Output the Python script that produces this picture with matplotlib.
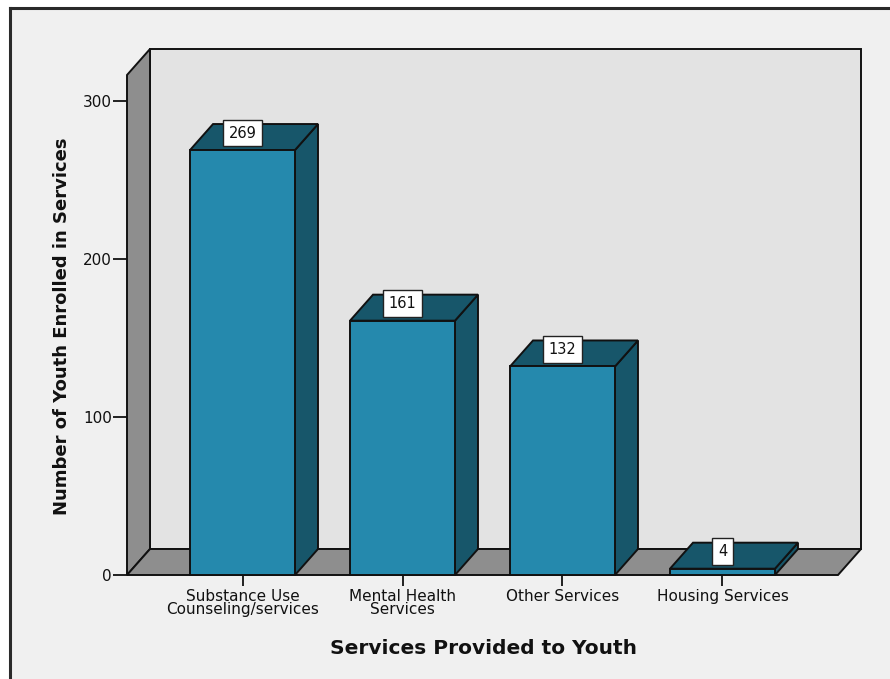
import matplotlib
matplotlib.use("Agg")
import matplotlib.pyplot as plt
from matplotlib.patches import Polygon, Rectangle
from matplotlib.lines import Line2D

# ---- data ----
categories = ["Substance Use\nCounseling/services", "Mental Health\nServices",
              "Other Services", "Housing Services"]
values = [269, 161, 132, 4]
yticks = [0, 100, 200, 300]
xlabel = "Services Provided to Youth"
ylabel = "Number of Youth Enrolled in Services"

# ---- style ----
BG = "#f0f0f0"
WALL = "#e3e3e3"
GRAY = "#8e8e8e"
FRONT = "#2589ad"
DARK = "#17566a"
EDGE = "#111111"
LW = 1.4

W, H = 890, 679
fig = plt.figure(figsize=(W / 100, H / 100), dpi=100, facecolor="white")

# outer panel
fig.patches.append(Rectangle((10 / W, 0), 1, (H - 8) / H, transform=fig.transFigure,
                             facecolor=BG, edgecolor="none", zorder=-10))
fig.lines.append(Line2D([10 / W, 10 / W], [0, (H - 8) / H], transform=fig.transFigure,
                        color="#2a2a2a", lw=2.2, zorder=-5))
fig.lines.append(Line2D([10 / W, 1], [(H - 8) / H, (H - 8) / H], transform=fig.transFigure,
                        color="#2a2a2a", lw=2.2, zorder=-5))

# front plane of the 3D box
ax = fig.add_axes([127 / W, (H - 575) / H, 711 / W, 500 / H])
ax.set_facecolor("none")
ax.set_zorder(1)
for s in ax.spines.values():
    s.set_visible(False)

n = len(values)
xmin, xmax = -0.722, n - 1 + 0.722
ymax = 316.5
ax.set_xlim(xmin, xmax)
ax.set_ylim(0, ymax)

DX = 23 / 711 * (xmax - xmin)   # depth offset in x data units
DY = 26 / 500 * ymax            # depth offset in y data units
BW = 0.656                      # bar width


def poly(pts, fc, z):
    p = Polygon(pts, closed=True, facecolor=fc, edgecolor=EDGE, lw=LW,
                joinstyle="miter", clip_on=False, zorder=z)
    ax.add_patch(p)


# back wall, left wall, floor
poly([(xmin + DX, DY), (xmax + DX, DY), (xmax + DX, ymax + DY), (xmin + DX, ymax + DY)], WALL, 1)
poly([(xmin, 0), (xmin, ymax), (xmin + DX, ymax + DY), (xmin + DX, DY)], GRAY, 2)
poly([(xmin, 0), (xmax, 0), (xmax + DX, DY), (xmin + DX, DY)], GRAY, 2)

# bars
for i, v in enumerate(values):
    l, r = i - BW / 2, i + BW / 2
    z = 3 + i
    poly([(r, 0), (r + DX, DY), (r + DX, v + DY), (r, v)], DARK, z)
    poly([(l, v), (r, v), (r + DX, v + DY), (l + DX, v + DY)], DARK, z)
    poly([(l, 0), (r, 0), (r, v), (l, v)], FRONT, z)
    ax.text(i, v + 0.65 * DY, str(v), ha="center", va="center", fontsize=10.5,
            color="#111111", zorder=20, clip_on=False,
            bbox=dict(boxstyle="square,pad=0.4", facecolor="white",
                      edgecolor="#222222", lw=1.0))

# axes ticks
ax.set_yticks(yticks)
ax.set_yticklabels([str(t) for t in yticks])
ax.set_xticks(range(n))
ax.set_xticklabels(categories, linespacing=0.85)
ax.tick_params(axis="y", length=10, width=1.3, pad=1, labelsize=11,
               colors="#111111")
ax.tick_params(axis="x", length=8, width=1.3, pad=2, labelsize=11,
               colors="#111111")

fig.text(62 / W, (H - 326) / H, ylabel, rotation=90, ha="center", va="center",
         fontsize=13, fontweight="bold", color="#111111")
fig.text(484 / W, (H - 648) / H, xlabel, ha="center", va="center",
         fontsize=14.5, fontweight="bold", color="#111111")

fig.savefig("out.png", dpi=100, facecolor="white")
